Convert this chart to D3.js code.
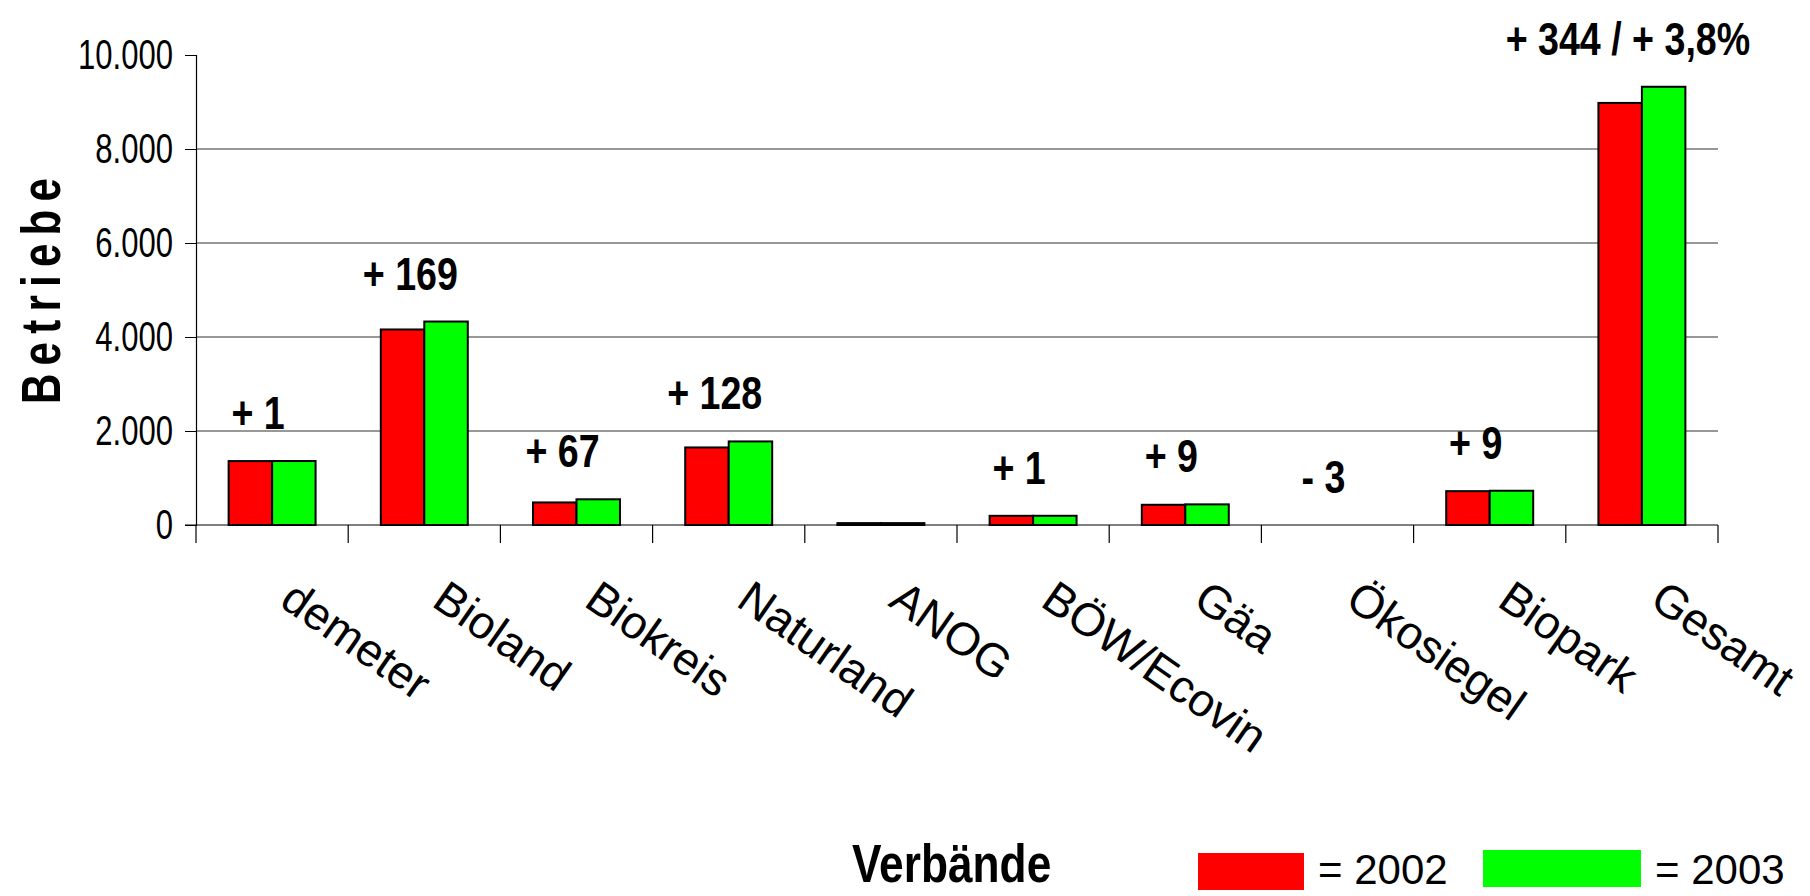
<!DOCTYPE html>
<html lang="de">
<head>
<meta charset="UTF-8">
<title>Betriebe nach Verbänden</title>
<script src="https://d3js.org/d3.v7.min.js"></script>
<style>
  body { margin: 0; background: #fff; }
  .tick text { font-family: "Liberation Sans", Arial, sans-serif; font-size: 42px; fill: #000; }
  .grid line { stroke: #333; stroke-width: 1.2px; }
  .bar { stroke: #000; stroke-width: 2px; }
  .note { font-family: "Liberation Sans", Arial, sans-serif; font-weight: bold; font-size: 47px; text-anchor: middle; }
  .cat { font-family: "Liberation Sans", Arial, sans-serif; font-size: 46px; }
</style>
</head>
<body>
<script>
  const categories = ["demeter", "Bioland", "Biokreis", "Naturland", "ANOG", "BÖW/Ecovin", "Gäa", "Ökosiegel", "Biopark", "Gesamt"];
  const values2002 = [1360, 4160, 480, 1650, 40, 195, 430, 3, 720, 8980];
  const values2003 = [1361, 4329, 547, 1778, 40, 196, 439, 0, 729, 9324];
  const diffLabels = ["+ 1", "+ 169", "+ 67", "+ 128", "", "+ 1", "+ 9", "- 3", "+ 9", "+ 344 / + 3,8%"];
  const years = ["2002", "2003"];
  const colors = ["#ff0000", "#00ff00"];
  const yTicks = [0, 2000, 4000, 6000, 8000, 10000];

  const width = 1810, height = 896;
  const margin = { left: 196, right: 92, top: 55, bottom: 371 };
  const narrow = 0.74; // the original uses a condensed face

  const rows = categories.map((c, i) => ({ cat: c, vals: [values2002[i], values2003[i]], label: diffLabels[i] }));

  const svg = d3.select("body").append("svg")
    .attr("width", width)
    .attr("height", height);

  const x0 = d3.scaleBand()
    .domain(categories)
    .range([margin.left, width - margin.right]);

  const x1 = d3.scaleBand()
    .domain(years)
    .range([0, x0.bandwidth()])
    .paddingOuter(0.75);

  const y = d3.scaleLinear()
    .domain([0, 10000])
    .range([height - margin.bottom, margin.top]);

  // gridlines (no line at the top value)
  svg.append("g")
    .attr("class", "grid")
    .selectAll("line")
    .data(yTicks.filter(t => t > 0 && t < 10000))
    .enter()
    .append("line")
    .attr("x1", margin.left)
    .attr("x2", width - margin.right)
    .attr("y1", d => y(d))
    .attr("y2", d => y(d));

  const fmt = d3.formatLocale({ decimal: ",", thousands: ".", grouping: [3], currency: ["", "€"] }).format(",d");

  svg.append("g")
    .attr("transform", `translate(${margin.left},0)`)
    .call(d3.axisLeft(y).tickValues(yTicks).tickFormat(fmt).tickSize(11).tickPadding(10))
    .call(g => g.select(".domain").attr("stroke", "#000").attr("stroke-width", 1.2))
    .call(g => g.selectAll(".tick line").attr("stroke", "#000"))
    .call(g => g.selectAll(".tick text")
      .attr("x", 0)
      .attr("transform", `translate(-23,0) scale(${narrow},1)`));

  // x axis: ticks between the categories, pointing down
  const xAxis = svg.append("g")
    .attr("transform", `translate(0,${y(0)})`);
  xAxis.append("line")
    .attr("x1", margin.left - 11)
    .attr("x2", width - margin.right)
    .attr("stroke", "#000")
    .attr("stroke-width", 1.2);
  xAxis.selectAll(".sep")
    .data(categories.concat([null]))
    .enter()
    .append("line")
    .attr("x1", (d, i) => margin.left + i * x0.step())
    .attr("x2", (d, i) => margin.left + i * x0.step())
    .attr("y1", 0)
    .attr("y2", 18)
    .attr("stroke", "#000")
    .attr("stroke-width", 1.2);

  const groups = svg.append("g")
    .selectAll("g")
    .data(rows)
    .enter()
    .append("g")
    .attr("transform", d => `translate(${x0(d.cat)},0)`);

  groups.selectAll("rect")
    .data(d => d.vals.map((v, i) => ({ v, year: years[i], i })))
    .enter()
    .filter(d => y(0) - y(d.v) >= 1)
    .append("rect")
    .attr("class", "bar")
    .attr("x", d => x1(d.year))
    .attr("width", x1.bandwidth())
    .attr("y", d => y(d.v))
    .attr("height", d => y(0) - y(d.v))
    .attr("fill", d => colors[d.i]);

  groups.append("text")
    .attr("class", "note")
    .attr("transform", d => `translate(${x0.bandwidth() / 2 - 14},${y(d3.max(d.vals)) - 32}) scale(0.8,1)`)
    .text(d => d.label);

  // rotated category labels
  svg.append("g")
    .selectAll("text")
    .data(categories)
    .enter()
    .append("text")
    .attr("class", "cat")
    .attr("transform", d => `translate(${x0(d) + x0.bandwidth() / 2 + 6},${y(0) + 80}) rotate(35)`)
    .text(d => d);

  svg.append("text")
    .attr("transform", "translate(60,287) rotate(-90) scale(0.75,1)")
    .attr("text-anchor", "middle")
    .style("font-family", "Liberation Sans, Arial, sans-serif")
    .style("font-weight", "bold")
    .style("font-size", "56px")
    .style("letter-spacing", "11px")
    .text("Betriebe");

  // legend
  svg.append("text")
    .attr("transform", "translate(852,882) scale(0.82,1)")
    .style("font-family", "Liberation Sans, Arial, sans-serif")
    .style("font-weight", "bold")
    .style("font-size", "54px")
    .text("Verbände");

  const legendX = [1198, 1483];
  const legendW = [106, 158];
  const leg = svg.append("g")
    .selectAll("g")
    .data(years)
    .enter()
    .append("g");
  leg.append("rect")
    .attr("x", (d, i) => legendX[i])
    .attr("y", (d, i) => 853 - i * 3)
    .attr("width", (d, i) => legendW[i])
    .attr("height", 37)
    .attr("fill", (d, i) => colors[i]);
  leg.append("text")
    .attr("x", (d, i) => legendX[i] + legendW[i] + 14)
    .attr("y", 884)
    .style("font-family", "Liberation Sans, Arial, sans-serif")
    .style("font-size", "42px")
    .text(d => "= " + d);
</script>
</body>
</html>
